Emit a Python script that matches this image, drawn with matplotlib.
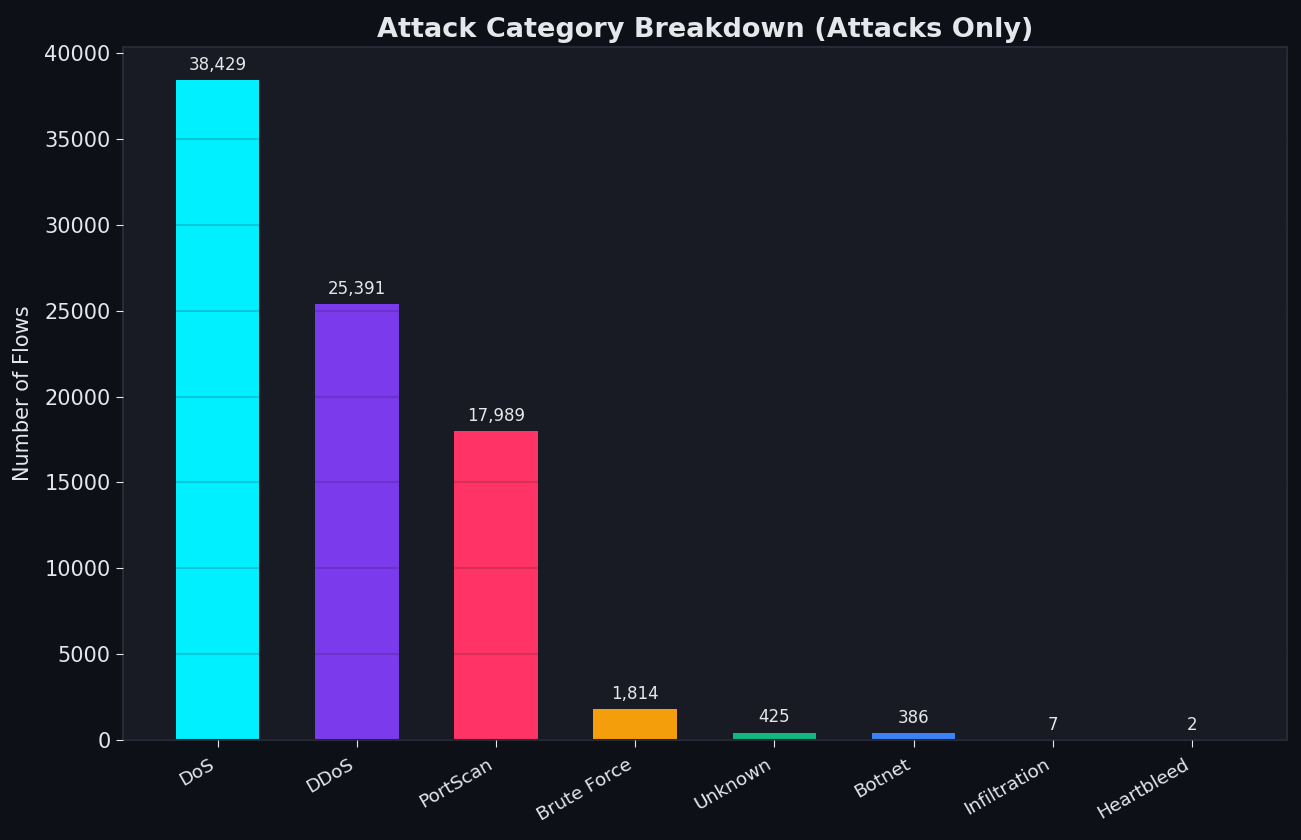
import matplotlib
matplotlib.use("Agg")
import matplotlib.pyplot as plt

plt.rcParams["font.family"] = ["DejaVu Sans"]

categories = ["DoS", "DDoS", "PortScan", "Brute Force", "Unknown", "Botnet", "Infiltration", "Heartbleed"]
counts = [38429, 25391, 17989, 1814, 425, 386, 7, 2]
colors = ["#00F0FF", "#7C3AED", "#FF3366", "#F59E0B", "#10B981", "#3B82F6", "#EC4899", "#A3E635"]

fig_bg = "#0d1017"
ax_bg = "#181b23"
txt = "#e5e7eb"

fig = plt.figure(figsize=(13.01, 8.4), dpi=100, facecolor=fig_bg)
ax = fig.add_axes([0.0945, 0.119, 0.8945, 0.825])
ax.set_facecolor(ax_bg)

x = range(len(categories))
bars = ax.bar(x, counts, width=0.6, color=colors, zorder=1)
ax.set_ylim(0, max(counts) * 1.05)

for b, v in zip(bars, counts):
    ax.annotate(f"{v:,}", (b.get_x() + b.get_width() / 2, b.get_height()),
                xytext=(0, 4.5), textcoords="offset points", ha="center", va="bottom",
                color=txt, fontsize=12)

ax.set_xticks(list(x))
ax.set_xticklabels(categories, rotation=30, ha="right", fontsize=13.3, color=txt)
ax.tick_params(axis="y", labelsize=15, colors=txt, length=5, pad=4)
ax.tick_params(axis="x", colors=txt, length=5, pad=6)
ax.set_ylabel("Number of Flows", fontsize=15, color=txt, labelpad=8)
ax.set_title("Attack Category Breakdown (Attacks Only)", fontsize=19.5, fontweight="bold", color=txt, pad=7)

ax.set_axisbelow(False)
ax.yaxis.grid(True, color="#1a1d26", alpha=0.18, linewidth=1.5, zorder=2)
for s in ax.spines.values():
    s.set_color("#262a34")
    s.set_linewidth(1.5)

fig.savefig("out.png", dpi=100, facecolor=fig_bg)
